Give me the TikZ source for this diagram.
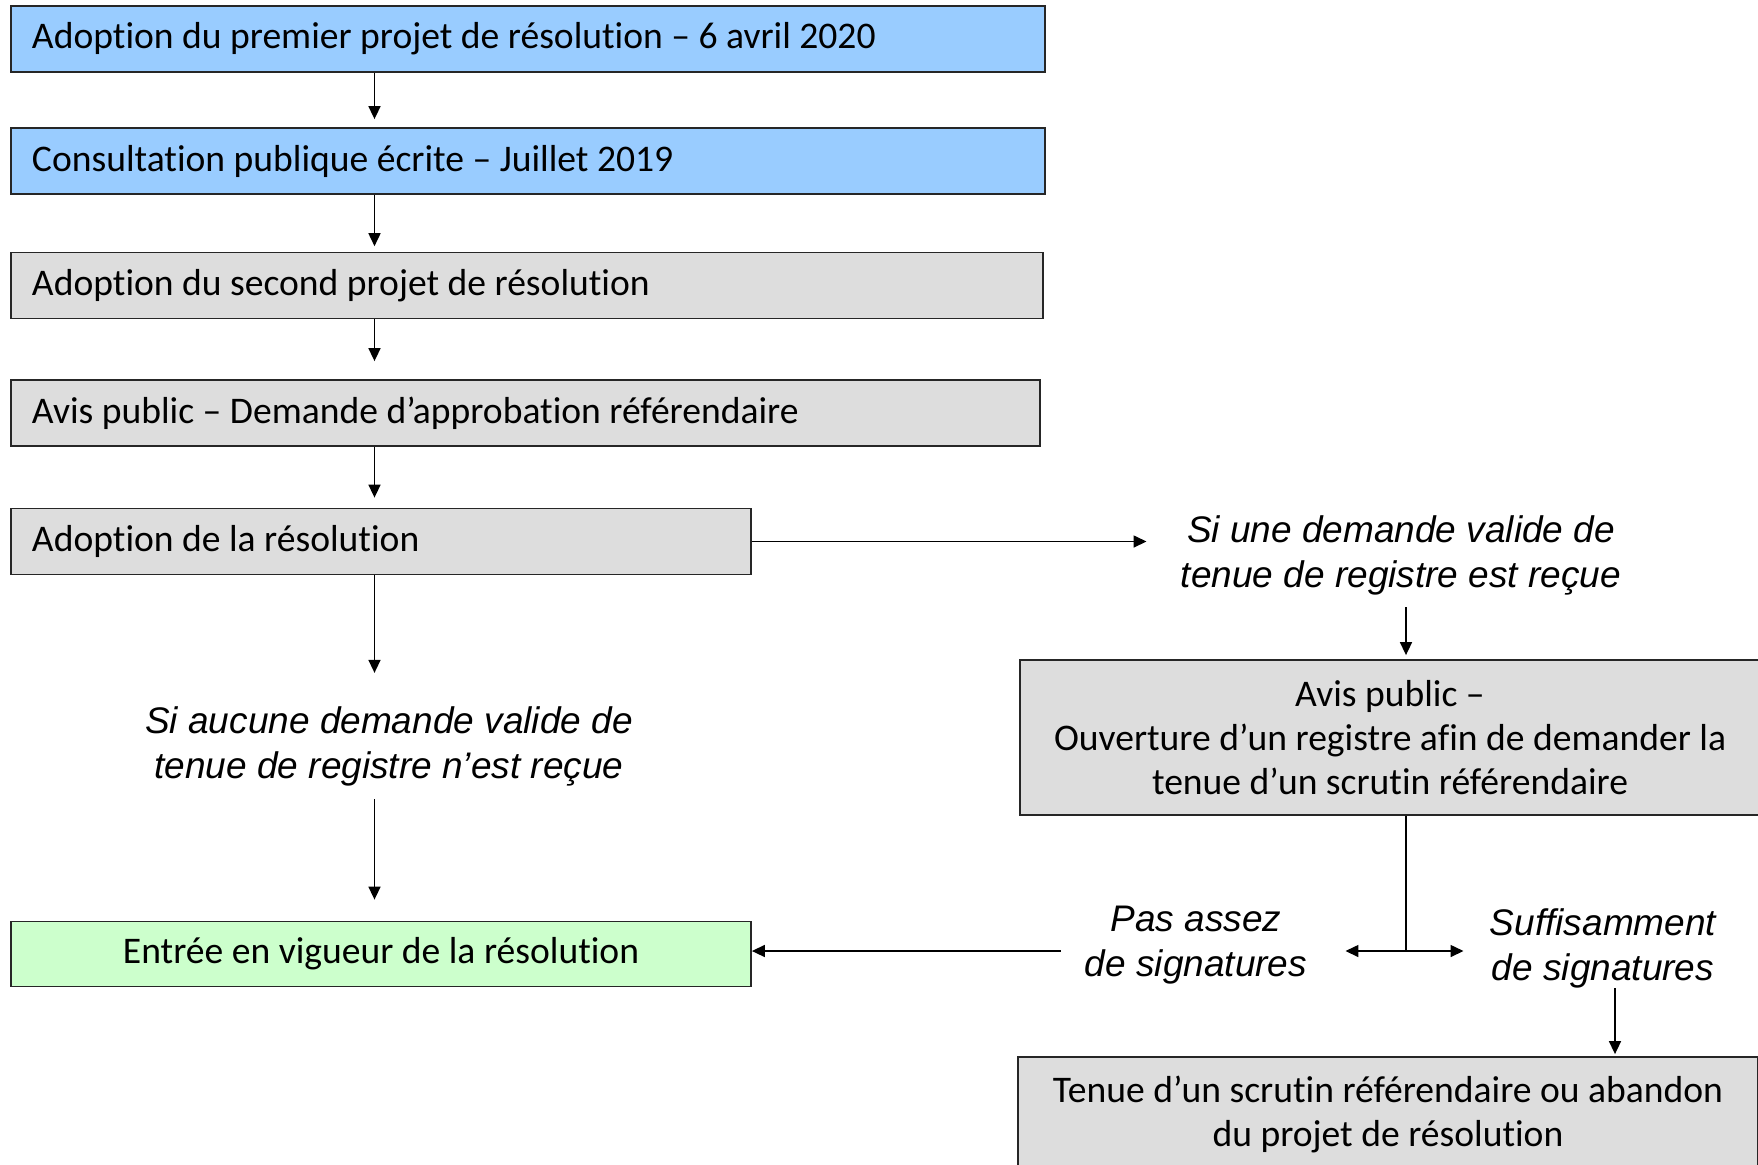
\documentclass[tikz,border=0pt]{standalone}
\usepackage{fontspec}
\setmainfont[Ligatures=NoCommon]{Carlito}
\newfontfamily\condfont{Liberation Sans}
\usetikzlibrary{arrows.meta}
\definecolor{stepblue}{HTML}{99CCFF}
\definecolor{stepgray}{HTML}{DDDDDD}
\definecolor{stepgreen}{HTML}{CCFFCC}

\begin{document}
\begin{tikzpicture}[x=0.5pt,y=-0.5pt,
  >={Triangle[length=6.5pt,width=6pt]},
  box/.style={draw=black!85,line width=0.9pt,fill=stepgray,inner sep=0pt,
    font=\fontsize{18.8}{22}\selectfont},
  leftbox/.style={box,align=flush left,inner xsep=10.5pt,text width=#1,minimum height=33pt,
    execute at begin node={\spaceskip=0pt\xspaceskip=0pt}},
  cbox/.style={box,align=center,minimum width=370pt},
  cond/.style={align=center,inner sep=0pt,
    font=\condfont\itshape\fontsize{18.5}{22.5}\selectfont},
  link/.style={line width=0.8pt}]

  \clip (0,0) rectangle (1758,1164);

  \node [leftbox=496pt,fill=stepblue] (adopt1) at (528,39)
    {Adoption du premier projet de résolution – 6 avril 2020};
  \node [leftbox=496pt,fill=stepblue] (consult) at (528,161)
    {Consultation publique écrite – Juillet 2019};
  \node [leftbox=495pt] (adopt2) at (527,285.5)
    {Adoption du second projet de résolution};
  \node [leftbox=493.5pt] (avis1) at (525.5,413)
    {Avis public – Demande d’approbation référendaire};
  \node [leftbox=349pt] (adopt3) at (381,541.5)
    {Adoption de la résolution};
  \node [cond] (nodemand) at (389,746)
    {Si aucune demande valide de\\tenue de registre n’est reçue};
  \node [cbox,fill=stepgreen,minimum height=32.5pt] (vigueur) at (381,954)
    {Entrée en vigueur de la résolution};

  \node [cond] (demand) at (1401,555)
    {Si une demande valide de\\tenue de registre est reçue};
  \node [cbox,minimum height=77.5pt] (avis2) at (1390,737.5)
    {Avis public –\\Ouverture d’un registre afin de demander la\\tenue d’un scrutin référendaire};
  \node [cond] (pas) at (1196,945) {Pas assez\\de signatures};
  \node [cond] (suff) at (1603,948) {Suffisamment\\de signatures};
  \node [cbox,minimum height=57.5pt] (scrutin) at (1388,1114.5)
    {Tenue d’un scrutin référendaire ou abandon\\du projet de résolution};

  \coordinate (laxis) at (374.5,0);
  \coordinate (raxis) at (1406,0);
  \coordinate (saxis) at (1615,0);
  \coordinate (split) at (1406,951);

  \draw [link,->,shorten >=4pt] (adopt1.south -| laxis) -- (consult.north -| laxis);
  \draw [link,->,shorten >=2.7pt] (consult.south -| laxis) -- (adopt2.north -| laxis);
  \draw [link,->,shorten >=9pt] (adopt2.south -| laxis) -- (avis1.north -| laxis);
  \draw [link,->,shorten >=5pt] (avis1.south -| laxis) -- (adopt3.north -| laxis);
  \draw [link,->,shorten >=16.5pt] (adopt3.south -| laxis) -- (nodemand.north -| laxis);
  \draw [link,->,shorten <=6.5pt,shorten >=10.5pt] (nodemand.south -| laxis) -- (vigueur.north -| laxis);

  \draw [link,->,shorten >=17pt] (adopt3.east) -- (adopt3.east -| demand.west);
  \draw [link,->,shorten <=6pt,shorten >=2pt] (demand.south -| raxis) -- (avis2.north -| raxis);
  \draw [link] (avis2.south -| raxis) -- (split);
  \draw [link,->,shorten >=19pt] (split) -- (split -| pas.east);
  \draw [link,->,shorten >=13pt] (split) -- (split -| suff.west);
  \draw [link,->,shorten <=12pt] (pas.west |- split) -- (vigueur.east |- split);
  \draw [link,->,shorten >=1pt] (suff.south -| saxis) -- (scrutin.north -| saxis);
\end{tikzpicture}
\end{document}
